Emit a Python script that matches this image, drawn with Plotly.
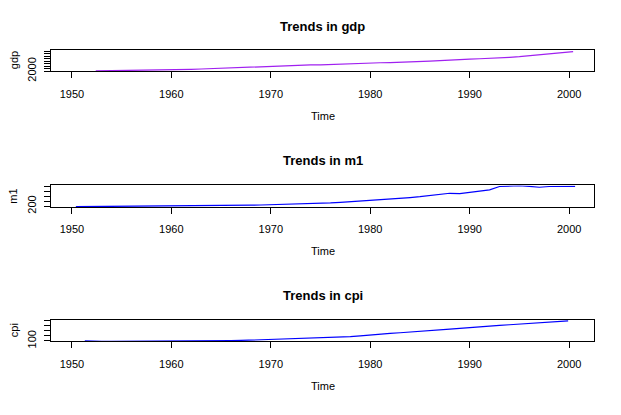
import plotly.graph_objects as go

gdp_years = [1952.4] + list(range(1953, 2001)) + [2000.4]
gdp = [2100, 2124, 2165, 2206, 2247, 2288, 2329, 2393, 2494, 2594, 2695, 2827, 2990,
       3155, 3333, 3511, 3627, 3736, 3846, 3984, 4190, 4353, 4480, 4470, 4650, 4827,
       5106, 5186, 5266, 5346, 5426, 5520, 5671, 5822, 6013, 6231, 6499, 6715, 6833,
       6952, 7081, 7299, 7525, 7770, 8092, 8470, 8863, 9255, 9645, 9800]

m1_years = [1950.4] + list(range(1951, 2001)) + [2000.6]
m1 = [180, 181, 183, 185, 187, 189, 191, 193, 195, 197, 199, 202, 204, 206, 209,
      214, 222, 231, 239, 248, 257, 268, 280, 291, 304, 317, 330, 353, 378, 401, 425,
      446, 471, 509, 544, 579, 619, 671, 715, 700, 745, 780, 852, 985, 1015, 1015,
      990, 955, 985, 990, 988, 989]

cpi_years = [1951.3] + list(range(1952, 2000)) + [1999.9]
cpi = [101, 93, 94, 94, 94, 95, 96, 97, 98, 99, 100, 101, 102, 103, 104, 106, 109,
       115, 121, 128, 134, 138, 143, 147, 151, 158, 171, 184, 200, 220,
       237, 250, 262, 273, 287, 304, 318, 332, 350, 368, 380, 393, 407, 420, 434,
       449, 465, 475, 484, 498]

x_ticks = [1950, 1960, 1970, 1980, 1990, 2000]
gdp_ticks = [2000, 3000, 4000, 5000, 6000, 7000, 8000, 9000, 10000]
m1_ticks = [200, 400, 600, 800, 1000]
cpi_ticks = [100, 200, 300, 400, 500]

# Seite hat 8px body-Rand -> Figur kleiner, Pixelpositionen um 8 verschoben
OFF = 8
W, H = 621 - 2 * OFF, 415 - 2 * OFF
FONT = "Liberation Sans, Arial, sans-serif"


def px_x(p):
    return (p - OFF) / W


def px_y(p):
    return 1 - (p - OFF) / H


panels = [
    # name, years, values, color, yticks, yrange, box top/bottom in px
    ("gdp", gdp_years, gdp, "#A020F0", gdp_ticks, [1880, 10500], 51, 73),
    ("m1", m1_years, m1, "#0000FF", m1_ticks, [172, 1028], 190, 212),
    ("cpi", cpi_years, cpi, "#0000FF", cpi_ticks, [90, 514], 328, 350),
]

fig = go.Figure()
annotations = []
layout = {}
x_dom = [px_x(51), px_x(594)]
x_mid = (x_dom[0] + x_dom[1]) / 2

for i, (name, yrs, vals, col, yt, yr, top, bot) in enumerate(panels):
    n = "" if i == 0 else str(i + 1)
    fig.add_trace(go.Scatter(
        x=yrs, y=vals, mode="lines",
        line=dict(color=col, width=1.2),
        xaxis="x" + n, yaxis="y" + n,
        showlegend=False, hoverinfo="skip"
    ))

    layout["xaxis" + n] = dict(
        domain=x_dom, range=[1947.9, 2002.5], anchor="y" + n,
        tickvals=x_ticks, ticks="outside", ticklen=6, tickwidth=1,
        tickcolor="black", showline=True, linecolor="black", linewidth=1,
        mirror=True, showgrid=False, zeroline=False,
        tickfont=dict(family=FONT, size=11, color="black"),
        ticklabelstandoff=6
    )
    layout["yaxis" + n] = dict(
        domain=[px_y(bot), px_y(top)], range=yr, anchor="x" + n,
        tickvals=yt, ticktext=[str(yt[0])] + [""] * (len(yt) - 1),
        tickangle=-90, ticks="outside", ticklen=6, tickwidth=1,
        tickcolor="black", showline=True, linecolor="black", linewidth=1,
        mirror=True, showgrid=False, zeroline=False,
        tickfont=dict(family=FONT, size=11, color="black"),
        ticklabelstandoff=4
    )

    off = 138.33 * i
    # Titel
    annotations.append(dict(
        x=x_mid, y=px_y(26.5 + off), xref="paper", yref="paper",
        text=f"<b>Trends in {name}</b>", showarrow=False,
        xanchor="center", yanchor="middle",
        font=dict(family=FONT, size=13, color="black")
    ))
    # x-Achsenbeschriftung
    annotations.append(dict(
        x=x_mid, y=px_y(119 + off), xref="paper", yref="paper",
        text="Time", showarrow=False, xanchor="center", yanchor="middle",
        font=dict(family=FONT, size=11, color="black")
    ))
    # y-Achsenbeschriftung
    annotations.append(dict(
        x=px_x(13.5), y=px_y((top + bot) / 2), xref="paper", yref="paper",
        text=name, showarrow=False, textangle=-90,
        xanchor="center", yanchor="middle",
        font=dict(family=FONT, size=11, color="black")
    ))

fig.update_layout(
    width=W, height=H,
    margin=dict(l=0, r=0, t=0, b=0),
    paper_bgcolor="white", plot_bgcolor="white",
    annotations=annotations,
    **layout
)

fig.write_html("out.html")
